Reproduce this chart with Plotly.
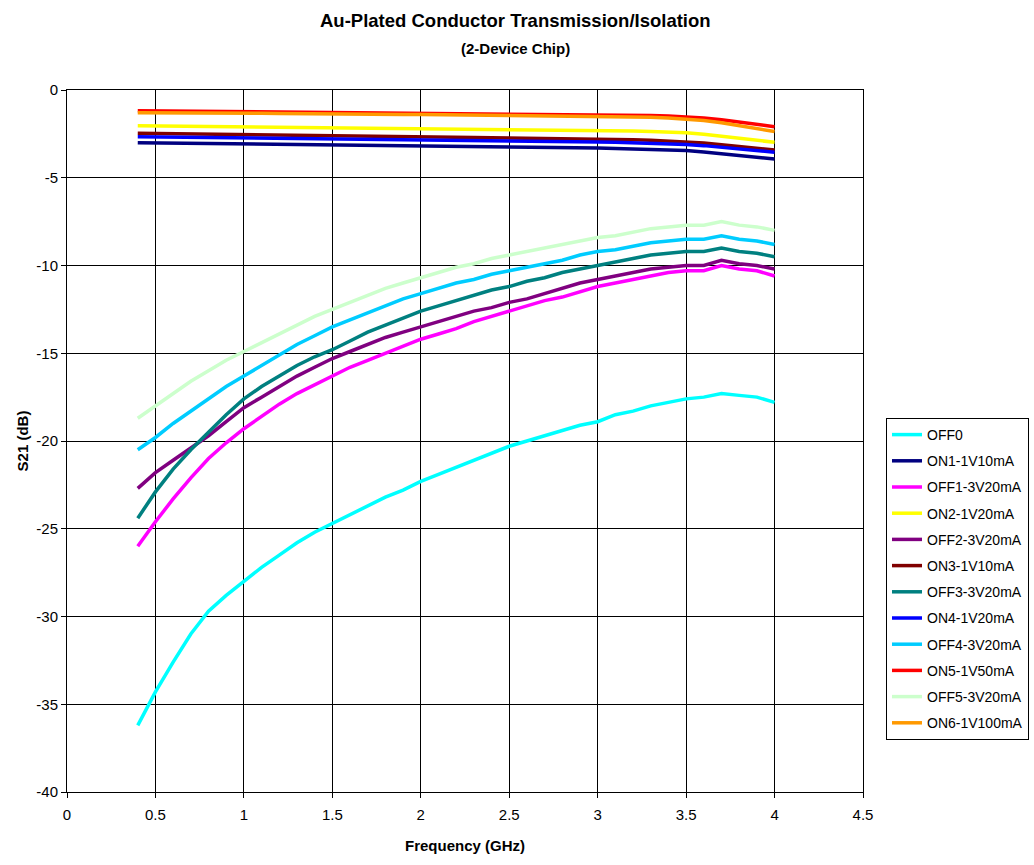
import plotly.graph_objects as go

freq = [0.4, 0.5, 0.6, 0.7, 0.8, 0.9, 1.0, 1.1, 1.2, 1.3, 1.4, 1.5, 1.6, 1.7, 1.8, 1.9,
        2.0, 2.1, 2.2, 2.3, 2.4, 2.5, 2.6, 2.7, 2.8, 2.9, 3.0, 3.1, 3.2, 3.3, 3.4, 3.5,
        3.6, 3.7, 3.8, 3.9, 4.0]

off0 = [-36.2, -34.3, -32.6, -31.0, -29.7, -28.8, -28.0, -27.2, -26.5, -25.8, -25.2, -24.7,
        -24.2, -23.7, -23.2, -22.8, -22.3, -21.9, -21.5, -21.1, -20.7, -20.3, -20.0, -19.7,
        -19.4, -19.1, -18.9, -18.5, -18.3, -18.0, -17.8, -17.6, -17.5, -17.3, -17.4, -17.5, -17.8]
on1 = [-3.00, -3.01, -3.02, -3.03, -3.04, -3.05, -3.06, -3.07, -3.08, -3.09, -3.10, -3.11,
       -3.12, -3.13, -3.14, -3.16, -3.17, -3.18, -3.19, -3.21, -3.22, -3.24, -3.25, -3.27,
       -3.28, -3.30, -3.31, -3.33, -3.35, -3.37, -3.41, -3.45, -3.53, -3.63, -3.74, -3.84, -3.93]
off1 = [-26.0, -24.6, -23.3, -22.1, -21.0, -20.1, -19.3, -18.6, -17.9, -17.3, -16.8, -16.3,
        -15.8, -15.4, -15.0, -14.6, -14.2, -13.9, -13.6, -13.2, -12.9, -12.6, -12.3, -12.0,
        -11.8, -11.5, -11.2, -11.0, -10.8, -10.6, -10.4, -10.3, -10.3, -10.0, -10.2, -10.3, -10.6]
on2 = [-2.03, -2.04, -2.05, -2.06, -2.07, -2.08, -2.09, -2.10, -2.11, -2.12, -2.13, -2.14,
       -2.14, -2.15, -2.16, -2.17, -2.18, -2.19, -2.20, -2.21, -2.22, -2.24, -2.25, -2.26,
       -2.28, -2.29, -2.31, -2.32, -2.34, -2.36, -2.39, -2.43, -2.52, -2.63, -2.75, -2.87, -2.98]
off2 = [-22.7, -21.8, -21.1, -20.4, -19.7, -18.9, -18.1, -17.5, -16.9, -16.3, -15.8, -15.3,
        -14.9, -14.5, -14.1, -13.8, -13.5, -13.2, -12.9, -12.6, -12.4, -12.1, -11.9, -11.6,
        -11.3, -11.0, -10.8, -10.6, -10.4, -10.2, -10.1, -10.0, -10.0, -9.7, -9.9, -10.0, -10.2]
on3 = [-2.47, -2.48, -2.49, -2.51, -2.52, -2.53, -2.54, -2.55, -2.57, -2.58, -2.59, -2.60,
       -2.61, -2.62, -2.63, -2.65, -2.66, -2.67, -2.69, -2.70, -2.72, -2.73, -2.75, -2.76,
       -2.78, -2.79, -2.81, -2.82, -2.84, -2.86, -2.90, -2.94, -3.02, -3.12, -3.23, -3.33, -3.42]
off3 = [-24.4, -22.9, -21.6, -20.5, -19.5, -18.5, -17.6, -16.9, -16.3, -15.7, -15.2, -14.8,
        -14.3, -13.8, -13.4, -13.0, -12.6, -12.3, -12.0, -11.7, -11.4, -11.2, -10.9, -10.7,
        -10.4, -10.2, -10.0, -9.8, -9.6, -9.4, -9.3, -9.2, -9.2, -9.0, -9.2, -9.3, -9.5]
on4 = [-2.66, -2.67, -2.68, -2.69, -2.70, -2.71, -2.72, -2.73, -2.74, -2.75, -2.76, -2.77,
       -2.77, -2.78, -2.79, -2.80, -2.81, -2.82, -2.84, -2.85, -2.87, -2.88, -2.90, -2.91,
       -2.93, -2.94, -2.96, -2.98, -3.00, -3.02, -3.06, -3.10, -3.17, -3.26, -3.36, -3.46, -3.55]
off4 = [-20.5, -19.8, -19.0, -18.3, -17.6, -16.9, -16.3, -15.7, -15.1, -14.5, -14.0, -13.5,
        -13.1, -12.7, -12.3, -11.9, -11.6, -11.3, -11.0, -10.8, -10.5, -10.3, -10.1, -9.9,
        -9.7, -9.4, -9.2, -9.1, -8.9, -8.7, -8.6, -8.5, -8.5, -8.3, -8.5, -8.6, -8.8]
on5 = [-1.18, -1.19, -1.19, -1.20, -1.21, -1.21, -1.22, -1.23, -1.23, -1.24, -1.25, -1.26,
       -1.26, -1.27, -1.28, -1.28, -1.29, -1.30, -1.31, -1.32, -1.33, -1.34, -1.35, -1.36,
       -1.37, -1.38, -1.40, -1.41, -1.43, -1.45, -1.48, -1.53, -1.60, -1.70, -1.84, -1.97, -2.09]
off5 = [-18.7, -18.0, -17.3, -16.6, -16.0, -15.4, -14.9, -14.4, -13.9, -13.4, -12.9, -12.5,
        -12.1, -11.7, -11.3, -11.0, -10.7, -10.4, -10.1, -9.9, -9.6, -9.4, -9.2, -9.0,
        -8.8, -8.6, -8.4, -8.3, -8.1, -7.9, -7.8, -7.7, -7.7, -7.5, -7.7, -7.8, -8.0]
on6 = [-1.29, -1.29, -1.30, -1.30, -1.31, -1.32, -1.32, -1.33, -1.34, -1.34, -1.35, -1.36,
       -1.37, -1.37, -1.38, -1.39, -1.40, -1.41, -1.42, -1.42, -1.43, -1.44, -1.45, -1.46,
       -1.47, -1.48, -1.50, -1.51, -1.53, -1.55, -1.59, -1.65, -1.74, -1.87, -2.03, -2.21, -2.37]

names = ["OFF0", "ON1-1V10mA", "OFF1-3V20mA", "ON2-1V20mA", "OFF2-3V20mA", "ON3-1V10mA",
         "OFF3-3V20mA", "ON4-1V20mA", "OFF4-3V20mA", "ON5-1V50mA", "OFF5-3V20mA", "ON6-1V100mA"]
series = [off0, on1, off1, on2, off2, on3, off3, on4, off4, on5, off5, on6]
colors = ["#00FFFF", "#000080", "#FF00FF", "#FFFF00", "#800080", "#800000",
          "#008080", "#0000FF", "#00CCFF", "#FF0000", "#CCFFCC", "#FF9900"]

xticks = [0, 0.5, 1, 1.5, 2, 2.5, 3, 3.5, 4, 4.5]
xticklabels = ["0", "0.5", "1", "1.5", "2", "2.5", "3", "3.5", "4", "4.5"]
yticks = [-40, -35, -30, -25, -20, -15, -10, -5, 0]
yticklabels = ["-40", "-35", "-30", "-25", "-20", "-15", "-10", "-5", "0"]

FONT = "Liberation Sans, Arial, sans-serif"

fig = go.Figure()
for nm, ys, c in zip(names, series, colors):
    assert len(ys) == len(freq)
    fig.add_trace(go.Scatter(x=freq, y=ys, name=nm, mode="lines",
                             line=dict(color=c, width=3.5), legendgroup=nm))

axis_common = dict(showgrid=True, gridcolor="black", gridwidth=1, showline=True,
                   linecolor="black", linewidth=1, mirror=True, ticks="outside",
                   ticklen=5, tickcolor="black", zeroline=False, automargin=False,
                   tickfont=dict(family=FONT, size=15, color="black"))

fig.update_xaxes(range=[0, 4.5], tickvals=xticks, ticktext=xticklabels,
                 ticklabelstandoff=4,
                 title=dict(text="<b>Frequency (GHz)</b>", font=dict(family=FONT, size=15, color="black"),
                            standoff=18),
                 **axis_common)
fig.update_yaxes(range=[-40, 0], tickvals=yticks, ticktext=yticklabels,
                 title=dict(text="<b>S21 (dB)</b>", font=dict(family=FONT, size=15, color="black"),
                            standoff=4),
                 **axis_common)

fig.update_layout(
    width=1034, height=865,
    margin=dict(l=67, r=171, t=90, b=73, autoexpand=False),
    paper_bgcolor="white", plot_bgcolor="white",
    font=dict(family=FONT, color="black"),
    showlegend=True,
    legend=dict(xref="container", yref="container", x=886 / 1034, y=1 - 418 / 865,
                xanchor="left", yanchor="top",
                bordercolor="black", borderwidth=1, bgcolor="white",
                font=dict(family=FONT, size=14, color="black"),
                tracegroupgap=5, itemwidth=30),
    annotations=[
        dict(text="<b>Au-Plated Conductor Transmission/Isolation</b>", xref="paper", yref="paper",
             x=(515 - 67) / 796, y=(792 - 21) / 702, xanchor="center", yanchor="middle",
             showarrow=False, font=dict(family=FONT, size=18.5, color="black")),
        dict(text="<b>(2-Device Chip)</b>", xref="paper", yref="paper",
             x=(515 - 67) / 796, y=(792 - 49) / 702, xanchor="center", yanchor="middle",
             showarrow=False, font=dict(family=FONT, size=15, color="black")),
    ],
)

fig.write_html("out.html")
